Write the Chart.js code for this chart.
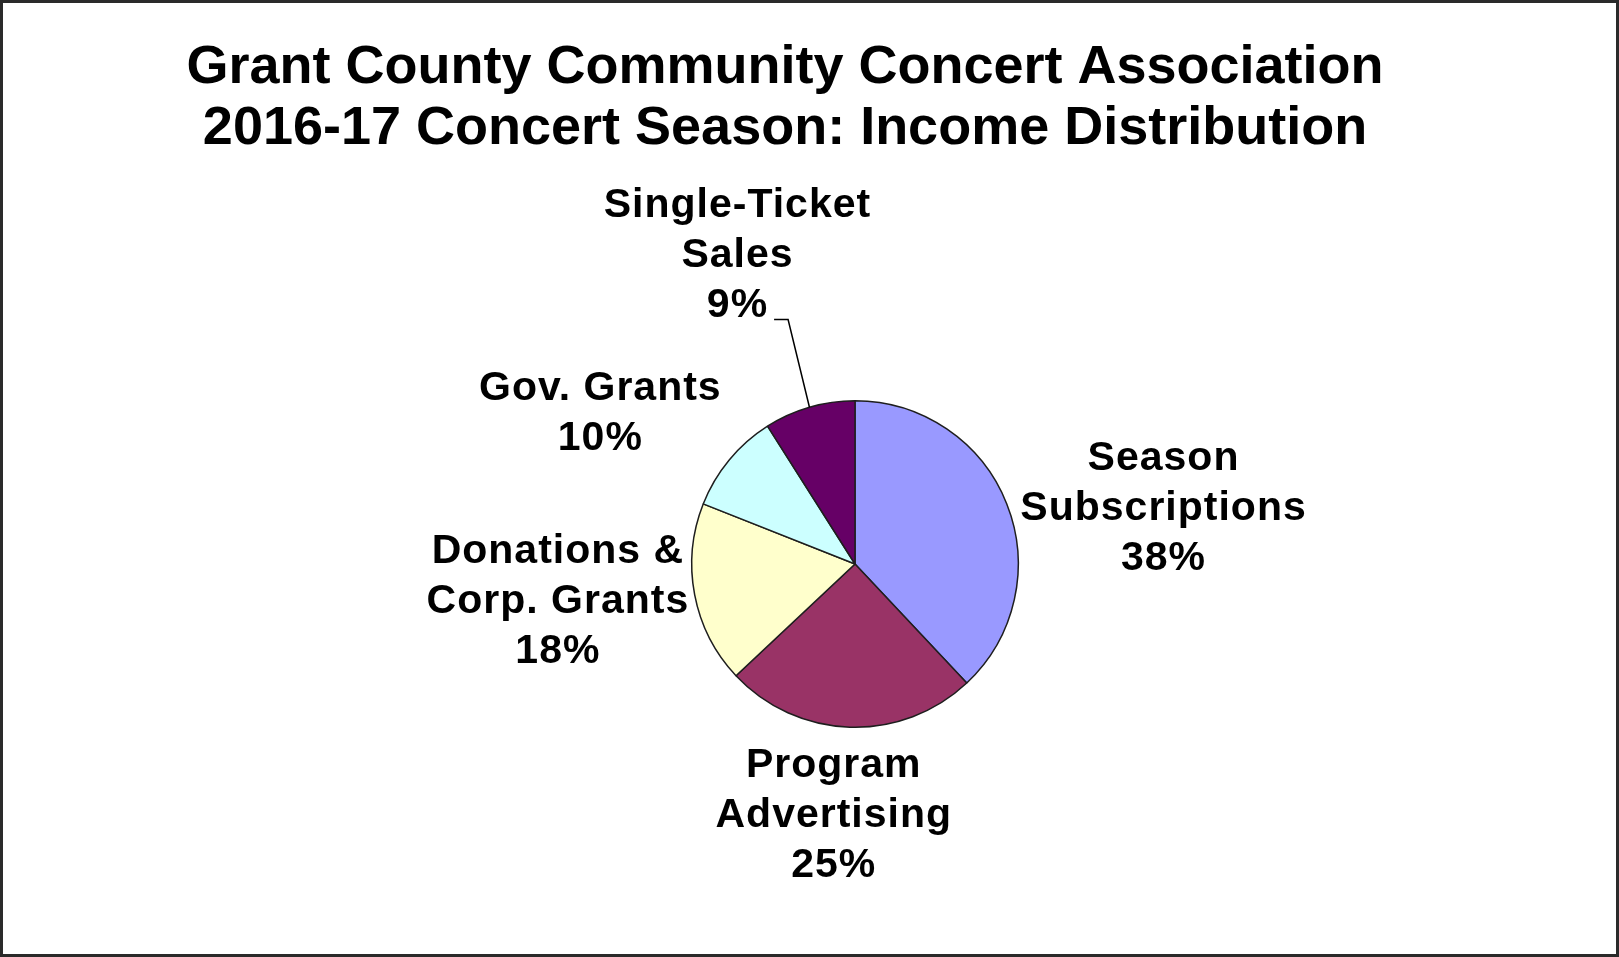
<!DOCTYPE html>
<html lang="en">
<head>
<meta charset="UTF-8" />
<title>Income Distribution</title>
<script src="https://cdn.jsdelivr.net/npm/chart.js"></script>
<style>
    html, body {
        margin: 0;
        padding: 0;
        background: #fff;
    }

    .moldura {
        position: absolute;
        left: 0;
        top: 0;
        width: 1619px;
        height: 957px;
        box-sizing: border-box;
        border: 3px solid #2a2a2a;
        background: #fff;
    }

    .grafico {
        position: relative;
        width: 1613px;
        height: 951px;
    }
</style>
</head>
<body>
    <div class="moldura">
        <div class="grafico">
            <canvas id="graficoPizza"></canvas>
        </div>
    </div>

<script>
    const titulo = ['Grant County Community Concert Association', '2016-17 Concert Season: Income Distribution'];
    const categorias = [['Season', 'Subscriptions'], ['Program', 'Advertising'], ['Donations &', 'Corp. Grants'], ['Gov. Grants'], ['Single-Ticket', 'Sales']];
    const percentuais = [38, 25, 18, 10, 9];
    const cores = ['#9999FF', '#993366', '#FFFFCC', '#CCFFFF', '#660066'];

    // onde fica cada rótulo, relativo ao centro da pizza (em raios)
    const posRotulos = [[1.89, -0.34], [-0.13, 1.54], [-1.82, 0.23], [-1.56, -0.92], [-0.72, -1.89]];
    const fonte = '"Liberation Sans", Arial, sans-serif';

    const rotulos = {
        id: 'rotulos',
        afterDraw(chart) {
            const ctx = chart.ctx;
            const arcos = chart.getDatasetMeta(0).data;
            ctx.save();
            ctx.fillStyle = '#000';
            ctx.strokeStyle = '#000';
            ctx.textAlign = 'center';
            ctx.textBaseline = 'middle';

            // título
            ctx.font = 'bold 54px ' + fonte;
            titulo.forEach((t, i) => ctx.fillText(t, 782, 65 + i * 61));

            ctx.font = 'bold 41px ' + fonte;
            ctx.letterSpacing = '1px';
            arcos.forEach((arco, i) => {
                const { x, y, outerRadius: r, startAngle, endAngle } =
                    arco.getProps(['x', 'y', 'outerRadius', 'startAngle', 'endAngle'], true);
                const linhas = categorias[i].concat(percentuais[i] + '%');
                const cx = x + posRotulos[i][0] * r;
                const cy = y + posRotulos[i][1] * r;
                const alt = 50;
                linhas.forEach((l, j) => ctx.fillText(l, cx, cy + (j - (linhas.length - 1) / 2) * alt));

                // linha de chamada só para a fatia pequena do topo
                if (i === 4) {
                    const ultima = linhas[linhas.length - 1];
                    const yUlt = cy + (linhas.length - 1) / 2 * alt;
                    const w = ctx.measureText(ultima).width;
                    const x0 = cx + w / 2 + 6;
                    const y0 = yUlt + 14;
                    const meio = (startAngle + endAngle) / 2;
                    ctx.lineWidth = 1.5;
                    ctx.beginPath();
                    ctx.moveTo(x0, y0);
                    ctx.lineTo(x0 + 14, y0);
                    ctx.lineTo(x + Math.cos(meio) * r, y + Math.sin(meio) * r);
                    ctx.stroke();
                }
            });
            ctx.restore();
        }
    };

    new Chart(document.getElementById('graficoPizza'), {
        type: 'pie',
        data: {
            labels: categorias.map(c => c.join(' ')),
            datasets: [{
                data: percentuais,
                backgroundColor: cores,
                borderColor: '#1e1e1e',
                borderWidth: 1.5
            }]
        },
        options: {
            responsive: true,
            maintainAspectRatio: false,
            animation: false,
            events: [],
            layout: {
                padding: { left: 688, right: 597, top: 397, bottom: 226 }
            },
            plugins: {
                legend: { display: false },
                title: { display: false },
                tooltip: { enabled: false }
            }
        },
        plugins: [rotulos]
    });
</script>
</body>
</html>
